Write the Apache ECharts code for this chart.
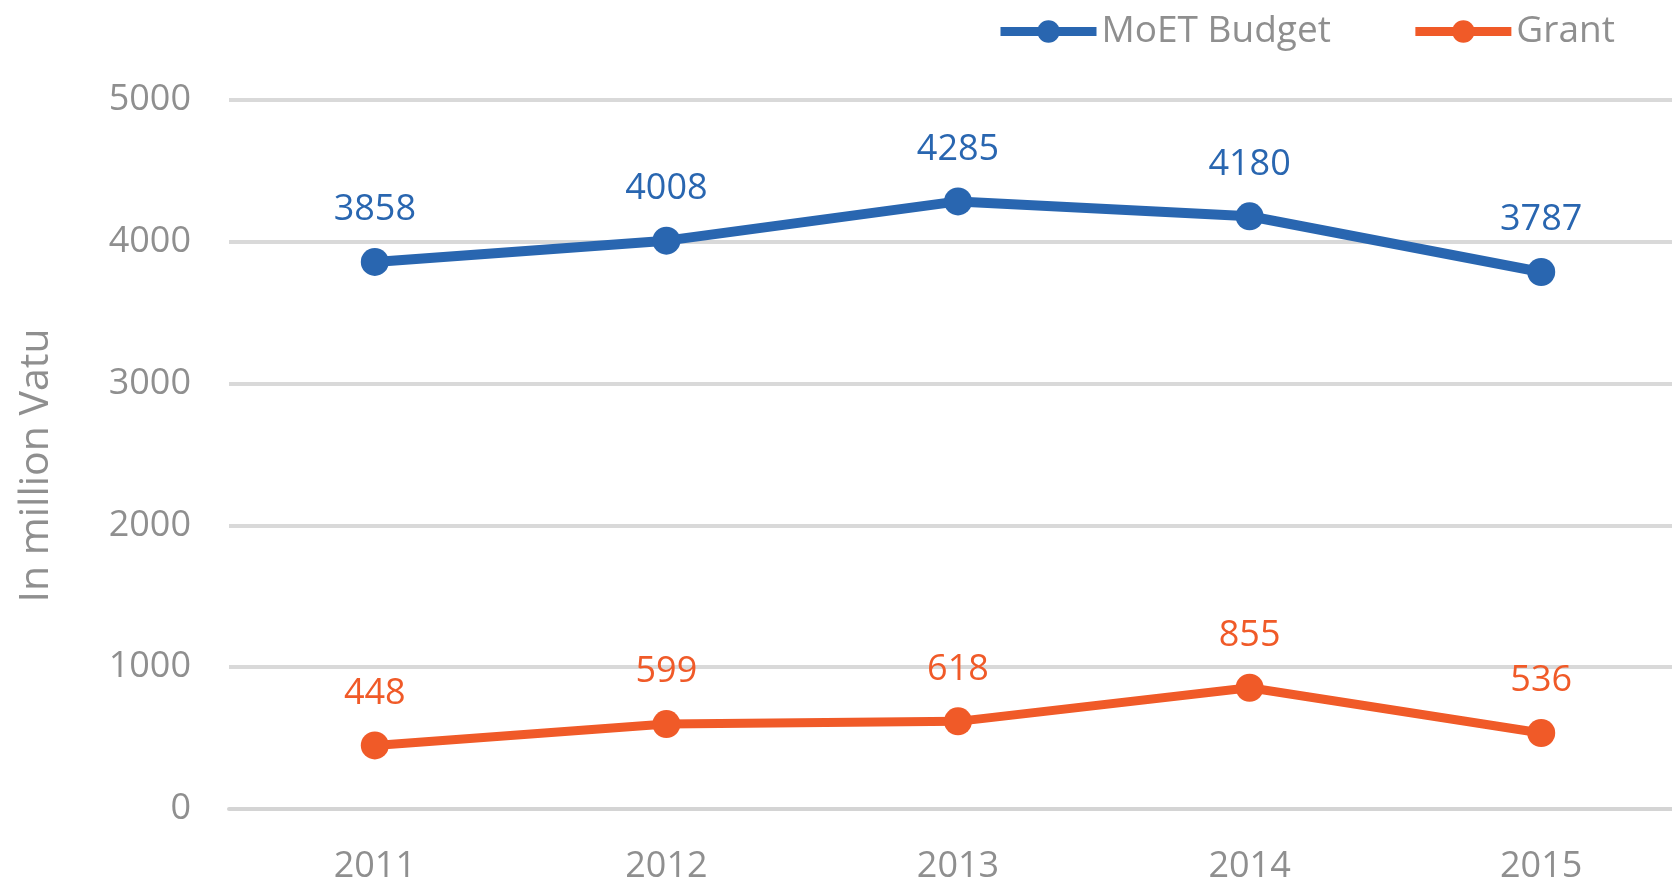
<!DOCTYPE html>
<html>
<head>
<meta charset="utf-8">
<script src="https://cdn.jsdelivr.net/npm/echarts@6/dist/echarts.min.js"></script>
<style>html,body{margin:0;padding:0;background:#fff;overflow:hidden;width:1672px;height:879px}#c{width:1687px;height:879px}</style>
</head>
<body>
<div id="c"></div>
<script>
const categories = ['2011', '2012', '2013', '2014', '2015'];
const moetBudget = [3858, 4008, 4285, 4180, 3787];
const grant = [448, 599, 618, 855, 536];
const yTicks = [0, 1000, 2000, 3000, 4000, 5000];

const FONT = '"Open Sans", "Noto Sans", sans-serif';
const GREY = '#8f8f8f';
const BLUE = '#2966b0';
const ORANGE = '#f05a28';

const chart = echarts.init(document.getElementById('c'));
chart.setOption({
  animation: false,
  textStyle: { fontFamily: FONT },
  legend: {
    top: 8,
    left: 991,
    itemWidth: 96,
    itemHeight: 28,
    itemGap: 80,
    lineStyle: { width: 9 },
    textStyle: { color: GREY, fontSize: 37, fontFamily: FONT },
    data: ['MoET Budget', 'Grant']
  },
  grid: { left: 229, right: 0, top: 100, bottom: 70, containLabel: false, outerBoundsMode: 'none' },
  xAxis: {
    type: 'category',
    data: categories,
    boundaryGap: true,
    axisLine: { lineStyle: { color: '#d4d4d4', width: 4 } },
    axisTick: { show: false },
    axisLabel: { color: GREY, fontSize: 36, fontFamily: FONT, margin: 40 }
  },
  yAxis: {
    type: 'value',
    min: yTicks[0],
    max: yTicks[yTicks.length - 1],
    interval: 1000,
    name: 'In million Vatu',
    nameLocation: 'middle',
    nameGap: 172,
    nameTextStyle: { color: GREY, fontSize: 41, fontFamily: FONT, padding: [0, 22, 0, 0] },
    axisLine: { show: false },
    axisTick: { show: false },
    axisLabel: { color: GREY, fontSize: 36, fontFamily: FONT, margin: 38, formatter: v => String(v) },
    splitLine: { lineStyle: { color: '#d9d9d9', width: 4 } }
  },
  series: [
    {
      name: 'MoET Budget',
      type: 'line',
      data: moetBudget,
      symbol: 'circle',
      symbolSize: 28,
      itemStyle: { color: BLUE },
      lineStyle: { color: BLUE, width: 10 },
      label: { show: true, position: 'top', distance: 20, color: BLUE, fontSize: 36, fontFamily: FONT }
    },
    {
      name: 'Grant',
      type: 'line',
      data: grant,
      symbol: 'circle',
      symbolSize: 28,
      itemStyle: { color: ORANGE },
      lineStyle: { color: ORANGE, width: 9 },
      label: { show: true, position: 'top', distance: 20, color: ORANGE, fontSize: 36, fontFamily: FONT }
    }
  ]
});
</script>
</body>
</html>
